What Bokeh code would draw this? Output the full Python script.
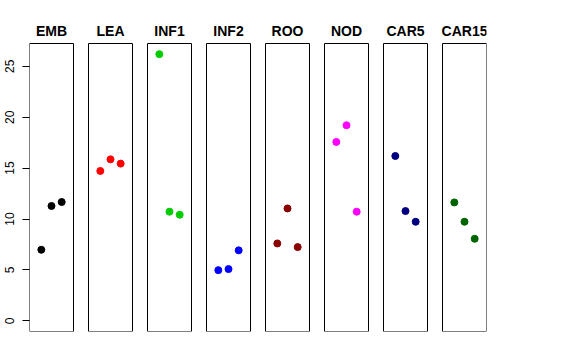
from bokeh.plotting import figure
from bokeh.models import Range1d, FixedTicker
from bokeh.embed import file_html
from bokeh.resources import INLINE
from bokeh.core.properties import value

# ---- data ----
groups = ["EMB", "LEA", "INF1", "INF2", "ROO", "NOD", "CAR5", "CAR15"]
colors = ["#000000", "#FF0000", "#00CD00", "#0000FF", "#8B0000", "#FF00FF", "#000080", "#006400"]
EMB = [6.98, 11.28, 11.67]
LEA = [14.72, 15.86, 15.44]
INF1 = [26.19, 10.72, 10.42]
INF2 = [4.98, 5.08, 6.92]
ROO = [7.60, 11.04, 7.24]
NOD = [17.57, 19.21, 10.72]
CAR5 = [16.19, 10.78, 9.73]
CAR15 = [11.63, 9.73, 8.06]
series = [EMB, LEA, INF1, INF2, ROO, NOD, CAR5, CAR15]
y_ticks = [0, 5, 10, 15, 20, 25]

# ---- layout (panel geometry in data units) ----
ylo, yhi = 0.0, max(max(s) for s in series)
ypad = 0.04 * (yhi - ylo)
box_bottom, box_top = ylo - ypad, yhi + ypad
xlo, xhi = 0.0, 4.0
xpad = 0.04 * (xhi - xlo)
pw = (xhi - xlo) + 2 * xpad          # panel width in data units (44 px)
slot = pw * 59.0 / 44.0               # panel pitch

frame_h = 331
px_per_unit = 288.0 / (box_top - box_bottom)

p = figure(width=560, height=340, output_backend="svg", toolbar_location=None,
           x_axis_type=None, min_border_left=29, min_border_right=74,
           min_border_top=0, min_border_bottom=9)
p.x_range = Range1d(xlo - xpad, xlo - xpad + 7 * slot + pw)
p.y_range = Range1d(box_bottom, box_bottom + frame_h / px_per_unit)
p.outline_line_color = None
p.grid.visible = False
p.background_fill_color = "white"
p.border_fill_color = "white"

ax = p.yaxis[0]
ax.ticker = FixedTicker(ticks=y_ticks)
ax.axis_line_color = None
ax.major_tick_in = 0
ax.major_tick_out = 7
ax.minor_tick_line_color = None
ax.major_tick_line_color = "black"
ax.major_label_orientation = "vertical"
ax.major_label_standoff = 8
ax.major_label_text_font = "Liberation Sans"
ax.major_label_text_font_size = "12px"
ax.major_label_text_color = "black"

lefts, rights, tx = [], [], []
for i, (g, c, s) in enumerate(zip(groups, colors, series)):
    off = i * slot
    lefts.append(xlo - xpad + off)
    rights.append(xlo - xpad + off + pw)
    tx.append(off + (xlo + xhi) / 2)
    xs = [off + 1, off + 2, off + 3]
    p.scatter(xs, s, size=7, color=c, line_color=c)

p.quad(left=lefts, right=rights, bottom=box_bottom, top=box_top,
       fill_color=None, line_color="black", line_width=1)

title_y = box_top + 13.0 / px_per_unit
p.text(x=tx, y=[title_y] * len(tx), text=groups, text_align="center",
       text_baseline="middle", text_font=value("Liberation Sans"),
       text_font_style="bold", text_font_size="14px", text_color="black")

open("out.html", "w").write(file_html(p, INLINE))
